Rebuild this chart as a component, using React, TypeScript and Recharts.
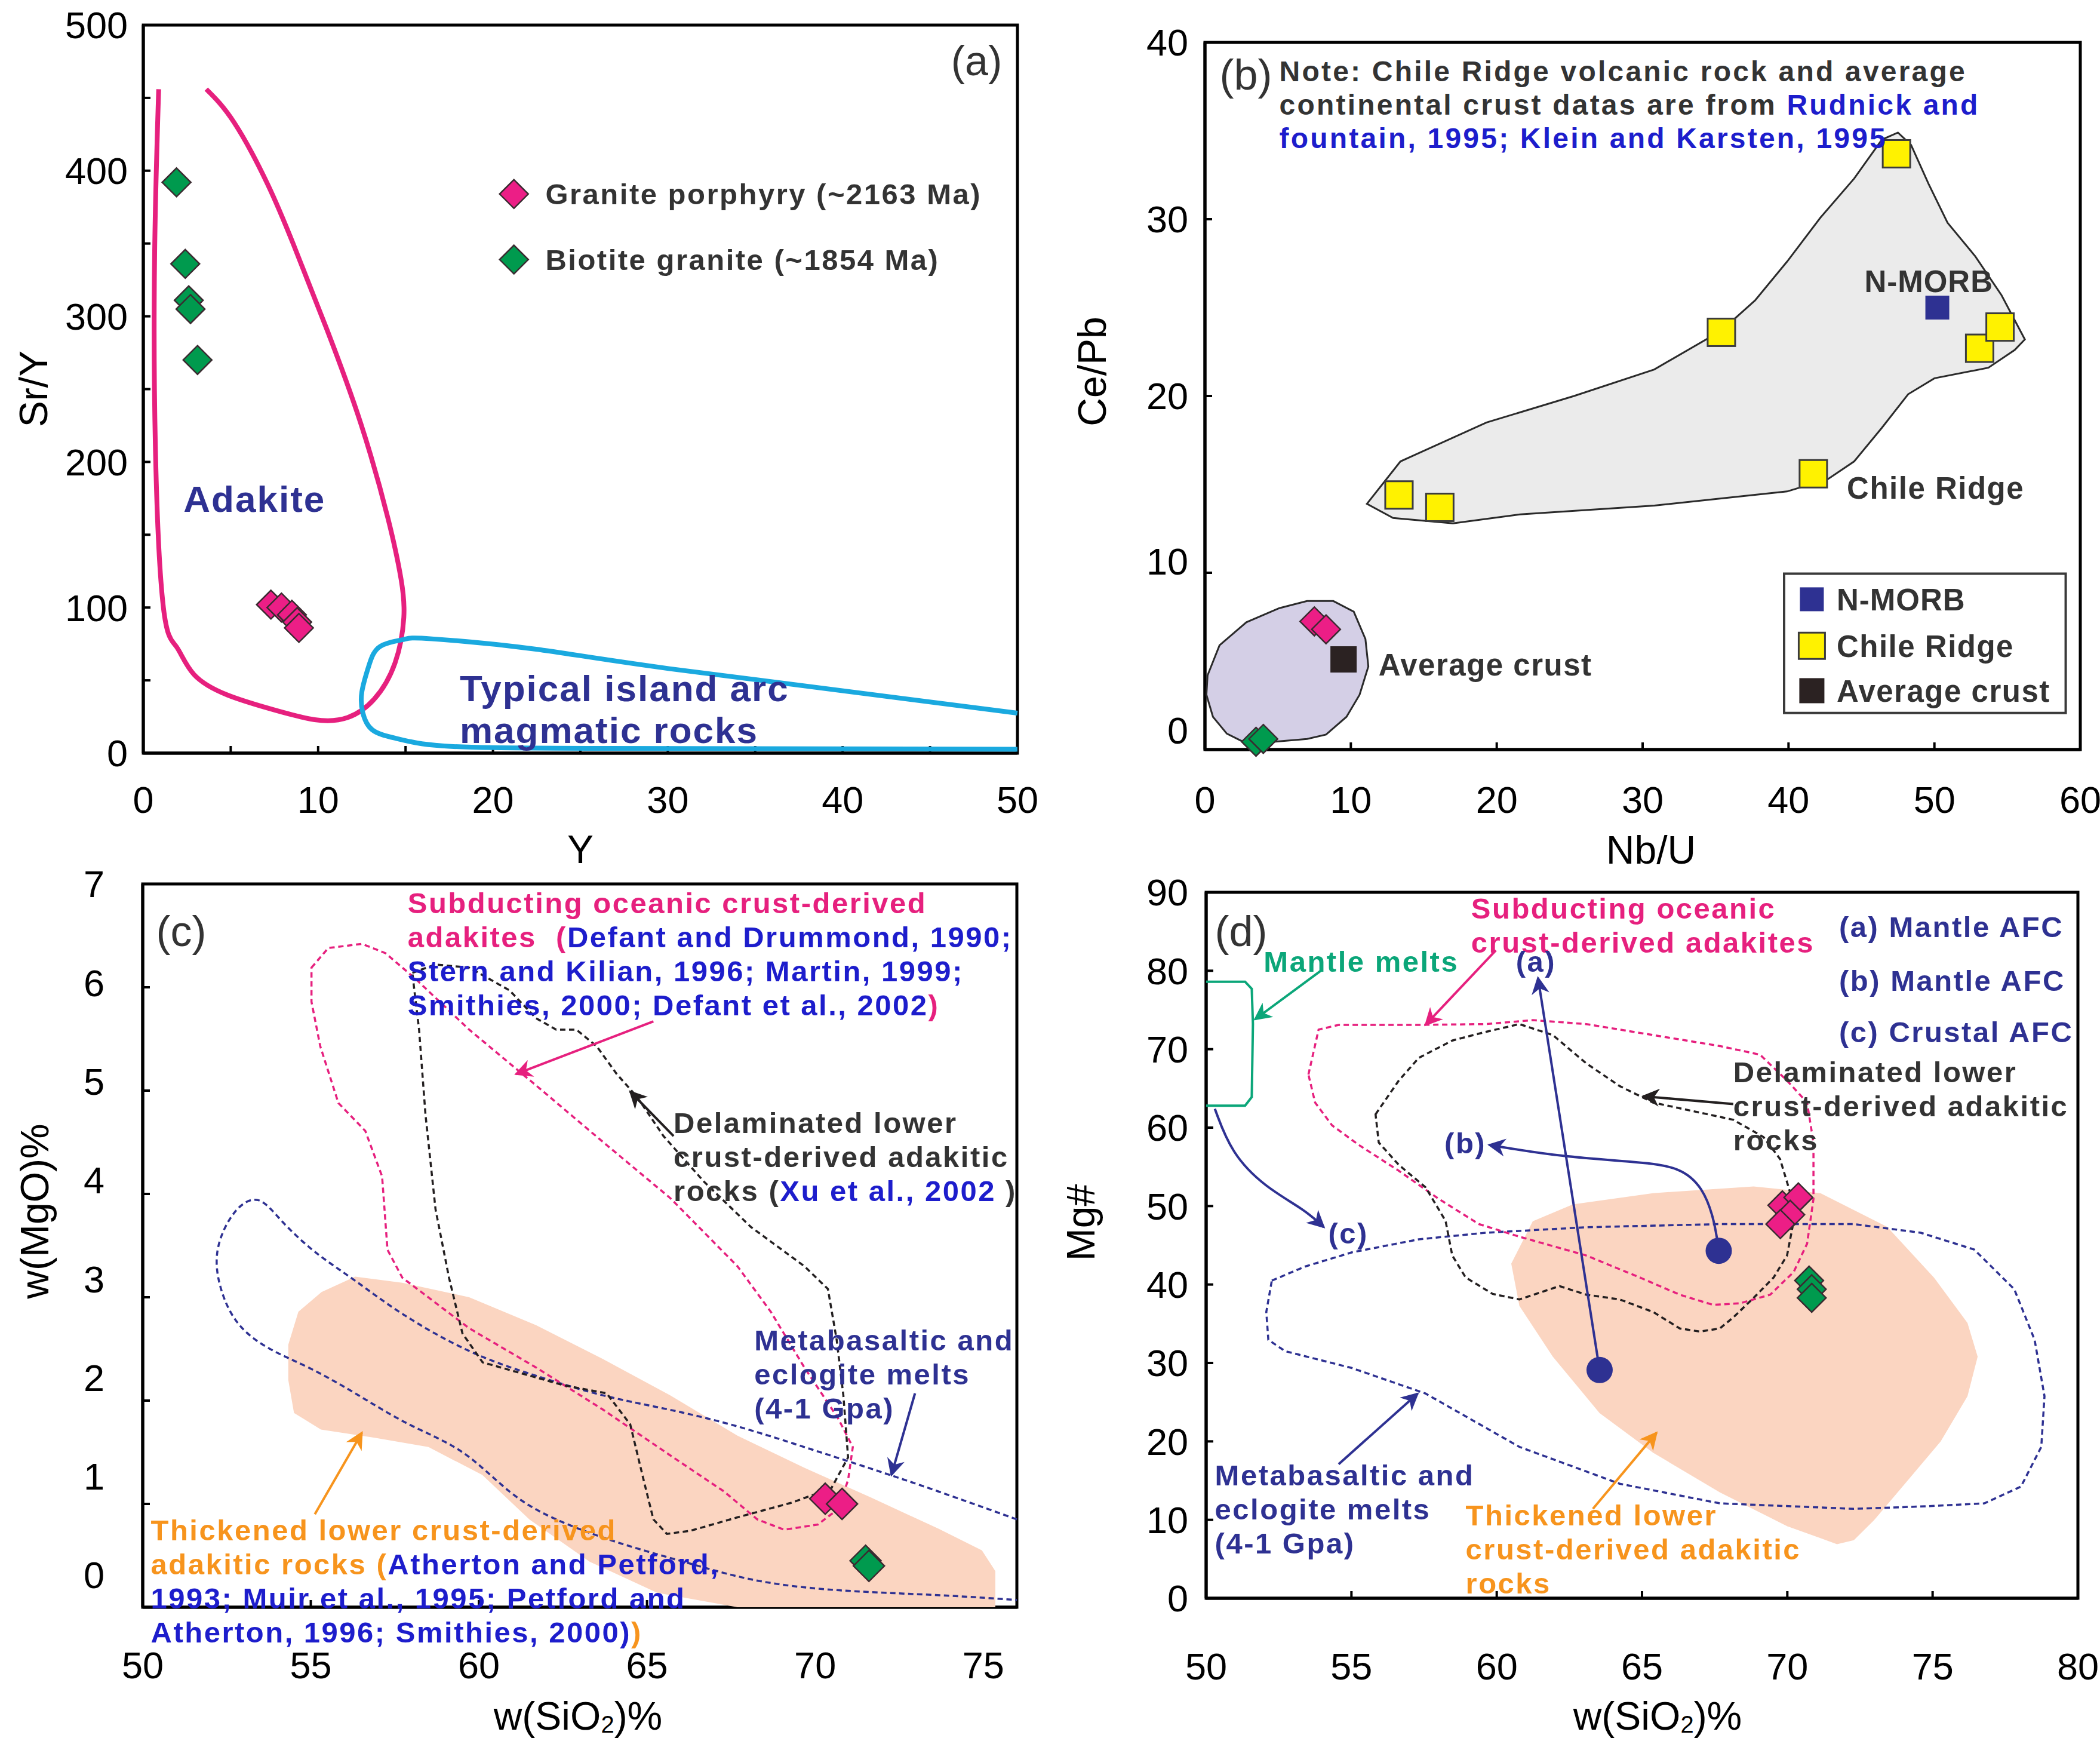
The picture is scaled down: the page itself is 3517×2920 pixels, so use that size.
import React from "react";
import { ScatterChart, Scatter, XAxis, YAxis, ReferenceArea } from "recharts";

const FONT = '"Liberation Sans", Arial, Helvetica, sans-serif';
const INK = "#333333";
const NAVY = "#2e3192";
const BLUE = "#1d1dcc";
const PINK = "#e6207e";
const ORANGE = "#f7941d";
const GREEN = "#0ba679";
const CYAN = "#1aa9df";
const PEACH = "#fbd5c1";
const DARK = "#231f20";

type P = { x: number; y: number };
const pts = (a: number[][]): P[] => a.map(([x, y]) => ({ x, y }));

// ---------- (a) Sr/Y vs Y ----------
const aXTicks = [0, 5, 10, 15, 20, 25, 30, 35, 40, 45, 50];
const aYTicks = [0, 50, 100, 150, 200, 250, 300, 350, 400, 450, 500];
const aPorphyry = pts([[7.3, 102], [7.9, 100], [8.5, 95], [8.8, 90], [8.9, 86]]);
const aBiotite = pts([[1.9, 392], [2.4, 336], [2.6, 311], [2.7, 305], [3.1, 270]]);
const aAdakite = pts([
  [0.88, 456], [0.65, 345], [0.69, 211], [1.15, 100], [1.9, 73], [2.9, 54], [4.8, 40],
  [7.1, 31], [9.8, 23], [11.7, 24.5], [13.2, 37], [14.4, 62], [14.9, 93], [14.75, 119],
  [14.0, 161], [12.45, 226], [10.5, 291], [8.6, 349], [7.1, 391], [5.2, 433], [3.6, 456],
]);
const aIslandArc = pts([
  [50, 27.5], [30.1, 58], [22.4, 71.5], [16.5, 78.5], [14.86, 78], [13.56, 73.4], [12.9, 60],
  [12.5, 42], [12.55, 28], [13.1, 16], [14.5, 10], [17.1, 5], [26, 3.3], [50, 2.7],
]);
const aLegendPorphyry = pts([[21.2, 384]]);
const aLegendBiotite = pts([[21.2, 339]]);

// ---------- (b) Ce/Pb vs Nb/U ----------
const bXTicks = [0, 10, 20, 30, 40, 50, 60];
const bYTicks = [0, 10, 20, 30, 40];
const bChile = pts([[13.3, 14.4], [16.1, 13.7], [35.4, 23.6], [47.4, 33.7], [41.7, 15.6], [53.1, 22.7], [54.5, 23.9]]);
const bMorb = pts([[50.2, 25.0]]);
const bAvgCrust = pts([[9.5, 5.1]]);
const bPorphyry = pts([[7.5, 7.25], [8.3, 6.8]]);
const bBiotite = pts([[3.5, 0.44], [4.0, 0.6]]);
const bChileField = pts([
  [11.1, 13.9], [13.4, 16.3], [19.3, 18.5], [25.3, 20.0], [30.8, 21.5], [35.4, 23.7],
  [37.7, 25.4], [39.9, 27.6], [42.2, 30.1], [44.5, 32.3], [46.4, 34.5], [47.5, 34.9],
  [48.4, 34.2], [49.6, 32.0], [50.9, 29.8], [52.8, 27.9], [54.6, 25.7], [56.2, 23.2],
  [55.5, 22.6], [53.7, 21.6], [50.0, 21.0], [48.2, 20.1], [46.4, 18.2], [44.5, 16.3],
  [42.7, 15.3], [39.9, 14.6], [30.8, 13.8], [21.6, 13.3], [17.0, 12.8], [12.9, 13.1],
]);
const bCrustField = pts([
  [0.18, 4.2], [1.0, 5.9], [2.84, 7.2], [5.1, 8.0], [7.0, 8.4], [8.8, 8.4], [10.2, 7.8],
  [11.0, 6.25], [11.2, 4.7], [10.6, 3.1], [9.7, 1.85], [8.3, 0.85], [7.0, 0.6], [4.7, 0.44],
  [2.84, 0.35], [1.5, 0.9], [0.55, 1.85], [0.1, 3.1],
]);
const bLegendMorb = pts([[41.6, 8.5]]);
const bLegendChile = pts([[41.6, 5.87]]);
const bLegendCrust = pts([[41.6, 3.33]]);

// ---------- (c) MgO vs SiO2 ----------
const cXTicks = [50, 55, 60, 65, 70, 75];
const cYTicks = [0, 1, 2, 3, 4, 5, 6, 7];
const cPorphyry = pts([[70.3, 1.05], [70.8, 1.0]]);
const cBiotite = pts([[71.5, 0.45], [71.6, 0.4]]);
const cThickened = pts([
  [54.33, 2.54], [54.63, 2.86], [55.32, 3.05], [56.32, 3.2], [57.72, 3.14], [59.71, 3.0],
  [61.7, 2.73], [63.7, 2.4], [65.69, 2.05], [67.69, 1.66], [69.68, 1.35], [71.67, 1.06],
  [73.67, 0.76], [74.96, 0.55], [75.36, 0.35], [75.36, 0.0], [67.69, 0.0], [65.3, 0.14],
  [63.3, 0.44], [61.5, 0.85], [60.1, 1.28], [58.5, 1.55], [56.9, 1.64], [55.3, 1.72],
  [54.5, 1.88], [54.33, 2.2],
]);
const cSubducting = pts([
  [55.02, 6.19], [55.52, 6.38], [56.52, 6.42], [57.22, 6.33], [58.12, 6.08], [59.71, 5.59],
  [61.7, 5.05], [63.7, 4.5], [65.69, 3.96], [67.69, 3.3], [68.68, 2.86], [69.68, 2.32],
  [70.68, 1.83], [71.12, 1.55], [70.98, 1.23], [70.68, 0.95], [70.08, 0.8], [69.08, 0.75],
  [68.28, 0.85], [67.29, 1.12], [65.69, 1.47], [63.7, 1.91], [61.7, 2.32], [59.71, 2.7],
  [57.72, 3.19], [57.28, 3.46], [57.12, 4.17], [56.62, 4.61], [55.82, 4.88], [55.28, 5.43],
  [55.02, 5.86],
]);
const cDelaminated = pts([
  [58.02, 6.14], [58.71, 6.22], [59.71, 6.19], [60.91, 5.97], [61.7, 5.7], [62.3, 5.59],
  [62.9, 5.59], [63.5, 5.43], [64.1, 5.16], [64.7, 4.94], [65.49, 4.56], [66.69, 4.12],
  [68.09, 3.68], [69.68, 3.3], [70.38, 3.08], [70.64, 2.59], [70.84, 2.05], [70.98, 1.45],
  [70.48, 1.15], [69.28, 1.01], [67.69, 0.87], [66.29, 0.74], [65.59, 0.71], [65.19, 0.85],
  [64.9, 1.23], [64.5, 1.77], [63.8, 2.07], [62.5, 2.15], [60.11, 2.37], [59.51, 2.65],
  [59.11, 3.19], [58.71, 3.85], [58.41, 4.77], [58.22, 5.59], [58.08, 5.97],
]);
const cMetabasalt = pts([
  [76.0, 0.85], [73.67, 1.12], [71.67, 1.34], [69.68, 1.55], [67.69, 1.75], [65.69, 1.91],
  [63.7, 2.05], [61.7, 2.24], [59.71, 2.48], [57.72, 2.84], [56.32, 3.16], [55.12, 3.44],
  [54.13, 3.74], [53.43, 3.94], [52.73, 3.82], [52.23, 3.46], [52.33, 3.08], [52.83, 2.75],
  [53.73, 2.51], [54.93, 2.32], [56.32, 2.07], [57.92, 1.77], [59.51, 1.5], [60.91, 1.12],
  [62.3, 0.85], [64.1, 0.63], [66.09, 0.44], [68.09, 0.27], [70.08, 0.18], [72.07, 0.14],
  [74.07, 0.11], [76.0, 0.07],
]);
const cArrowPink = pts([[65.19, 5.67], [61.1, 5.16]]);
const cArrowBlack = pts([[65.79, 4.56], [64.5, 4.99]]);
const cArrowNavy = pts([[72.97, 2.07], [72.27, 1.28]]);
const cArrowOrange = pts([[55.12, 0.9], [56.52, 1.69]]);

// ---------- (d) Mg# vs SiO2 ----------
const dXTicks = [50, 55, 60, 65, 70, 75, 80];
const dYTicks = [0, 10, 20, 30, 40, 50, 60, 70, 80, 90];
const dPorphyry = pts([[69.83, 50.1], [70.38, 51.1], [70.1, 48.9], [69.76, 47.7]]);
const dBiotite = pts([[70.75, 40.5], [70.84, 39.4], [70.84, 38.3]]);
const dAfcStart = pts([[67.64, 44.3], [63.54, 29.1]]);
const dThickened = pts([
  [60.5, 42.66], [61.24, 48.06], [62.62, 50.22], [65.38, 51.65], [68.84, 52.5], [71.14, 51.65],
  [73.44, 47.34], [75.05, 40.86], [76.2, 35.1], [76.55, 30.8], [76.2, 25.76], [75.28, 20.0],
  [74.13, 14.96], [72.98, 9.93], [72.29, 7.41], [71.71, 6.9], [69.99, 9.2], [67.68, 13.5],
  [65.38, 18.56], [63.54, 23.6], [61.93, 30.8], [60.78, 37.27],
]);
const dMetabasalt = pts([
  [52.26, 40.5], [53.41, 42.3], [55.02, 44.1], [57.32, 45.76], [59.62, 46.6], [63.08, 47.3],
  [67.68, 47.7], [72.29, 47.7], [74.59, 46.6], [76.43, 44.46], [77.81, 39.4], [78.51, 32.95],
  [78.85, 25.76], [78.74, 19.3], [78.04, 14.24], [76.78, 12.1], [74.59, 11.7], [72.29, 11.4],
  [67.68, 12.1], [64.23, 14.6], [60.78, 19.3], [57.55, 26.1], [55.02, 29.35], [52.72, 31.5],
  [52.14, 32.95], [52.07, 36.5],
]);
const dSubducting = pts([
  [53.52, 66.76], [53.87, 72.5], [54.56, 73.1], [57.32, 73.1], [59.62, 73.2], [61.24, 73.7],
  [63.08, 73.2], [65.38, 71.8], [67.68, 70.4], [69.06, 69.3], [69.99, 66.0], [70.68, 63.2],
  [70.9, 58.1], [70.9, 50.9], [70.68, 45.2], [70.22, 41.6], [69.41, 38.7], [68.37, 37.6],
  [67.45, 37.4], [66.3, 38.7], [64.92, 40.9], [63.08, 43.7], [60.78, 46.1], [59.39, 47.7],
  [58.01, 50.9], [56.63, 54.5], [55.25, 57.8], [54.33, 60.3], [53.75, 63.2],
]);
const dDelaminated = pts([
  [55.83, 61.7], [56.63, 66.0], [57.32, 68.9], [58.47, 71.1], [59.62, 72.2], [60.78, 73.2],
  [61.93, 71.8], [63.08, 68.2], [64.23, 65.3], [65.38, 63.2], [66.76, 62.1], [68.14, 61.0],
  [69.18, 58.8], [69.75, 56.0], [70.1, 51.7], [70.22, 48.1], [69.99, 43.7], [69.53, 40.9],
  [68.84, 38.3], [68.14, 35.8], [67.68, 34.4], [66.99, 34.0], [66.3, 34.4], [65.38, 36.5],
  [64.23, 38.1], [63.08, 38.7], [62.16, 39.8], [60.78, 38.1], [59.86, 38.8], [58.93, 40.9],
  [58.47, 43.7], [58.24, 48.1], [57.55, 52.4], [56.63, 55.25], [55.94, 58.1],
]);
const dMantle = pts([[50, 78.6], [51.34, 78.6], [51.57, 77.7], [51.61, 73.2], [51.57, 63.9], [51.34, 62.8], [50, 62.8]]);
const dArrowGreen = pts([[53.98, 80.1], [51.68, 73.8]]);
const dArrowPink = pts([[59.97, 82.6], [57.55, 73.1]]);
const dArrowBlack = pts([[68.14, 63.0], [65.04, 64.0]]);
const dArrowC = pts([[50.3, 62.4], [50.87, 56.7], [52.03, 52.4], [53.41, 49.5], [54.05, 47.3]]);
const dArrowA = pts([[63.54, 29.1], [61.42, 79.1]]);
const dArrowB = pts([[67.64, 44.3], [67.5, 48.1], [67.1, 52.4], [66.3, 55.0], [64.92, 55.6], [62.16, 56.3], [59.74, 57.8]]);
const dArrowMeta = pts([[54.56, 17.1], [57.28, 26.1]]);
const dArrowOrange = pts([[63.31, 11.4], [65.5, 21.1]]);

// ---------- text annotations (anchor in data units) ----------
type Seg = { t: string; c?: string };
type Note = P & { lines: (string | Seg[])[]; color: string; size?: number; normal?: boolean; ls?: number; lh?: number };

const aNotes: Note[] = [
  { x: 46.2, y: 476, lines: ["(a)"], color: INK, size: 70, normal: true, ls: 0 },
  { x: 23.0, y: 384, lines: ["Granite porphyry (~2163 Ma)"], color: INK, size: 49, ls: 2.5 },
  { x: 23.0, y: 339, lines: ["Biotite granite (~1854 Ma)"], color: INK, size: 49, ls: 2.5 },
  { x: 2.3, y: 175, lines: ["Adakite"], color: NAVY, size: 62, ls: 2 },
  { x: 18.1, y: 44.8, lines: ["Typical island arc", "magmatic rocks"], color: NAVY, size: 62, ls: 2, lh: 70 },
];
const bNotes: Note[] = [
  { x: 1.0, y: 38.2, lines: ["(b)"], color: INK, size: 72, normal: true, ls: 0 },
  {
    x: 5.1, y: 38.4, color: INK, size: 48, ls: 3.2, lh: 56,
    lines: [
      "Note: Chile Ridge volcanic rock and average",
      [{ t: "continental crust datas are from " }, { t: "Rudnick and", c: BLUE }],
      [{ t: "fountain, 1995; Klein and Karsten, 1995", c: BLUE }],
    ],
  },
  { x: 45.2, y: 26.5, lines: ["N-MORB"], color: INK, size: 51, ls: 1 },
  { x: 44.0, y: 14.8, lines: ["Chile Ridge"], color: INK, size: 51, ls: 1.5 },
  { x: 11.9, y: 4.8, lines: ["Average crust"], color: INK, size: 51, ls: 1.5 },
  { x: 43.3, y: 8.5, lines: ["N-MORB"], color: INK, size: 51, ls: 1 },
  { x: 43.3, y: 5.87, lines: ["Chile Ridge"], color: INK, size: 51, ls: 1.5 },
  { x: 43.3, y: 3.33, lines: ["Average crust"], color: INK, size: 51, ls: 1.5 },
];
const cNotes: Note[] = [
  { x: 50.4, y: 6.55, lines: ["(c)"], color: INK, size: 72, normal: true, ls: 0 },
  {
    x: 57.88, y: 6.82, color: PINK,
    lines: [
      "Subducting oceanic crust-derived",
      [{ t: "adakites  (" }, { t: "Defant and Drummond, 1990;", c: BLUE }],
      [{ t: "Stern and Kilian, 1996; Martin, 1999;", c: BLUE }],
      [{ t: "Smithies, 2000; Defant et al., 2002", c: BLUE }, { t: ")" }],
    ],
  },
  {
    x: 65.79, y: 4.69, color: INK,
    lines: ["Delaminated lower", "crust-derived adakitic", [{ t: "rocks (" }, { t: "Xu et al., 2002", c: BLUE }, { t: " )" }]],
  },
  { x: 68.19, y: 2.59, color: NAVY, lines: ["Metabasaltic and", "eclogite melts", "(4-1 Gpa)"] },
  {
    x: 50.24, y: 0.75, color: ORANGE,
    lines: [
      "Thickened lower crust-derived",
      [{ t: "adakitic rocks (" }, { t: "Atherton and Petford,", c: BLUE }],
      [{ t: "1993; Muir et al., 1995; Petford and", c: BLUE }],
      [{ t: "Atherton, 1996; Smithies, 2000)", c: BLUE }, { t: ")" }],
    ],
  },
];
const dNotes: Note[] = [
  { x: 50.3, y: 85.1, lines: ["(d)"], color: INK, size: 72, normal: true, ls: 0 },
  { x: 51.98, y: 81.2, lines: ["Mantle melts"], color: GREEN },
  { x: 59.12, y: 88.0, lines: ["Subducting oceanic", "crust-derived adakites"], color: PINK },
  { x: 60.66, y: 81.2, lines: ["(a)"], color: NAVY },
  { x: 71.78, y: 85.6, lines: ["(a) Mantle AFC"], color: NAVY },
  { x: 71.78, y: 78.8, lines: ["(b) Mantle AFC"], color: NAVY },
  { x: 71.78, y: 72.2, lines: ["(c) Crustal AFC"], color: NAVY },
  { x: 68.14, y: 67.1, lines: ["Delaminated lower", "crust-derived adakitic", "rocks"], color: INK },
  { x: 58.2, y: 58.1, lines: ["(b)"], color: NAVY },
  { x: 54.2, y: 46.6, lines: ["(c)"], color: NAVY },
  { x: 50.3, y: 15.7, lines: ["Metabasaltic and", "eclogite melts", "(4-1 Gpa)"], color: NAVY },
  { x: 58.93, y: 10.6, lines: ["Thickened lower", "crust-derived adakitic", "rocks"], color: ORANGE },
];

// ---------- shapes ----------
const NoShape = () => <g />;

const diamond = (fill: string, r = 24) => (p: any) => (
  <polygon
    points={`${p.cx},${p.cy - r} ${p.cx + r},${p.cy} ${p.cx},${p.cy + r} ${p.cx - r},${p.cy}`}
    fill={fill}
    stroke="#3a2a30"
    strokeWidth={2.5}
  />
);
const square = (fill: string, s: number, stroke = "none") => (p: any) => (
  <rect x={p.cx - s / 2} y={p.cy - s / 2} width={s} height={s} fill={fill} stroke={stroke} strokeWidth={3} />
);
const dot = (fill: string, r: number) => (p: any) => <circle cx={p.cx} cy={p.cy} r={r} fill={fill} />;

const NoteShape = (p: any) => {
  const n: Note = p.payload;
  const size = n.size ?? 49;
  const lh = n.lh ?? 57;
  return (
    <text
      fontFamily={FONT}
      fontSize={size}
      fontWeight={n.normal ? 400 : 700}
      fill={n.color}
      letterSpacing={n.ls ?? 2.5}
      style={{ whiteSpace: "pre" }}
    >
      {n.lines.map((line, i) => (
        <tspan key={i} x={p.cx} y={p.cy + i * lh + size * 0.36}>
          {typeof line === "string"
            ? line
            : line.map((s, j) => (
                <tspan key={j} fill={s.c ?? n.color}>
                  {s.t}
                </tspan>
              ))}
        </tspan>
      ))}
    </text>
  );
};

// ---------- series helpers ----------
type LineOpts = { width?: number; fill?: string; dash?: string; joint?: any; marker?: string };
const outline = (key: string, data: P[], stroke: string, o: LineOpts = {}) => (
  <Scatter
    key={key}
    data={data}
    shape={NoShape}
    isAnimationActive={false}
    lineJointType={o.joint ?? "linearClosed"}
    line={{
      stroke,
      strokeWidth: o.width ?? 3.5,
      fill: o.fill ?? "none",
      strokeDasharray: o.dash,
      markerEnd: o.marker ? `url(#${o.marker})` : undefined,
    }}
  />
);
const arrow = (key: string, data: P[], color: string, marker: string, joint: any = "linear") =>
  outline(key, data, color, { width: 4, joint, marker });
const marks = (key: string, data: P[], shape: any) => (
  <Scatter key={key} data={data} shape={shape} isAnimationActive={false} />
);
const notes = (key: string, data: Note[]) => (
  <Scatter key={key} data={data} shape={NoteShape} isAnimationActive={false} />
);

// ---------- axes ----------
const AXIS = { stroke: "#000", strokeWidth: 5 };
const TICK = { stroke: "#000", strokeWidth: 4 };
const isMajor = (v: number, step: number) => Math.abs(v / step - Math.round(v / step)) < 1e-6;

const xTick = (step: number) => (p: any) => {
  const v = p.payload.value;
  if (!isMajor(v, step)) return <g />;
  return (
    <text x={p.x} y={p.y} dy="0.71em" textAnchor="middle" fontFamily={FONT} fontSize={63} fill="#000">
      {v}
    </text>
  );
};
const yTick = (step: number, shift: (v: number) => number = () => 0) => (p: any) => {
  const v = p.payload.value;
  if (!isMajor(v, step)) return <g />;
  return (
    <text x={p.x} y={p.y + shift(v)} dy="0.355em" textAnchor="end" fontFamily={FONT} fontSize={63} fill="#000">
      {v}
    </text>
  );
};

const DASH = "9 6";

function PanelA() {
  return (
    <ScatterChart width={1760} height={1440} margin={{ top: 42, right: 56, bottom: 0, left: 0 }}>
      <XAxis type="number" dataKey="x" domain={[0, 50]} ticks={aXTicks} interval={0} height={179}
        tickSize={-12} tickMargin={67} tick={xTick(10)} axisLine={AXIS} tickLine={TICK} />
      <YAxis type="number" dataKey="y" domain={[0, 500]} ticks={aYTicks} interval={0} width={240}
        tickSize={-12} tickMargin={38} tick={yTick(100)} axisLine={AXIS} tickLine={TICK} />
      <ReferenceArea x1={0} x2={50} y1={0} y2={500} fill="none" stroke="#000" strokeWidth={5} ifOverflow="visible" />
      {outline("adakite", aAdakite, PINK, { width: 8, joint: "natural" })}
      {outline("arc", aIslandArc, CYAN, { width: 8, joint: "natural" })}
      {marks("biotite", aBiotite, diamond("#009a4e"))}
      {marks("porphyry", aPorphyry, diamond("#ec1e86"))}
      {marks("lgP", aLegendPorphyry, diamond("#ec1e86"))}
      {marks("lgB", aLegendBiotite, diamond("#009a4e"))}
      {notes("notes", aNotes)}
    </ScatterChart>
  );
}

function PanelB() {
  const shiftB = (v: number) => (v === 0 ? -32 : v === 10 ? -19 : 0);
  return (
    <ScatterChart width={1757} height={1440} margin={{ top: 71, right: 33, bottom: 0, left: 0 }}>
      <XAxis type="number" dataKey="x" domain={[0, 60]} ticks={bXTicks} interval={0} height={185}
        tickSize={-12} tickMargin={73} tick={xTick(10)} axisLine={AXIS} tickLine={TICK} />
      <YAxis type="number" dataKey="y" domain={[0, 40]} ticks={bYTicks} interval={0} width={258}
        tickSize={-12} tickMargin={40} tick={yTick(10, shiftB)} axisLine={AXIS} tickLine={TICK} />
      <ReferenceArea x1={0} x2={60} y1={0} y2={40} fill="none" stroke="#000" strokeWidth={5} ifOverflow="visible" />
      {outline("chileField", bChileField, "#2a2a2a", { width: 3, fill: "#ebebeb" })}
      {outline("crustField", bCrustField, "#2a2a2a", { width: 3, fill: "#d4cfe6" })}
      <ReferenceArea x1={39.7} x2={59.0} y1={2.07} y2={9.95} fill="#fff" fillOpacity={1} stroke="#3a3a3a" strokeWidth={4} ifOverflow="visible" />
      {marks("chile", bChile, square("#fff200", 46, "#3c3c3c"))}
      {marks("morb", bMorb, square(NAVY, 40))}
      {marks("avg", bAvgCrust, square("#2b2222", 44))}
      {marks("porphyry", bPorphyry, diamond("#ec1e86"))}
      {marks("biotite", bBiotite, diamond("#009a4e"))}
      {marks("lgMorb", bLegendMorb, square(NAVY, 40))}
      {marks("lgChile", bLegendChile, square("#fff200", 44, "#3c3c3c"))}
      {marks("lgCrust", bLegendCrust, square("#2b2222", 42))}
      {notes("notes", bNotes)}
    </ScatterChart>
  );
}

function PanelC() {
  const shiftC = (v: number) => -(7 - v) * 7.7;
  return (
    <ScatterChart width={1760} height={1480} margin={{ top: 40, right: 57, bottom: 0, left: 0 }}>
      <XAxis type="number" dataKey="x" domain={[50, 76]} ticks={cXTicks} interval={0} height={229}
        tickSize={-12} tickMargin={86} tick={xTick(5)} axisLine={AXIS} tickLine={TICK} />
      <YAxis type="number" dataKey="y" domain={[0, 7]} ticks={cYTicks} interval={0} width={239}
        tickSize={-12} tickMargin={76} tick={yTick(1, shiftC)} axisLine={AXIS} tickLine={TICK} />
      {outline("thick", cThickened, PEACH, { width: 0, fill: PEACH })}
      {outline("meta", cMetabasalt, NAVY, { dash: DASH, joint: "natural" })}
      {outline("sub", cSubducting, PINK, { dash: DASH })}
      {outline("delam", cDelaminated, DARK, { dash: DASH })}
      <ReferenceArea x1={50} x2={76} y1={0} y2={7} fill="none" stroke="#000" strokeWidth={5} ifOverflow="visible" />
      {arrow("aPink", cArrowPink, PINK, "ah-pink")}
      {arrow("aBlack", cArrowBlack, DARK, "ah-black")}
      {arrow("aNavy", cArrowNavy, NAVY, "ah-navy")}
      {arrow("aOrange", cArrowOrange, ORANGE, "ah-orange")}
      {marks("porphyry", cPorphyry, diamond("#ec1e86", 26))}
      {marks("biotite", cBiotite, diamond("#009a4e", 26))}
      {notes("notes", cNotes)}
    </ScatterChart>
  );
}

function PanelD() {
  return (
    <ScatterChart width={1757} height={1480} margin={{ top: 54, right: 37, bottom: 0, left: 0 }}>
      <XAxis type="number" dataKey="x" domain={[50, 80]} ticks={dXTicks} interval={0} height={244}
        tickSize={-12} tickMargin={103} tick={xTick(5)} axisLine={AXIS} tickLine={TICK} />
      <YAxis type="number" dataKey="y" domain={[0, 90]} ticks={dYTicks} interval={0} width={260}
        tickSize={-12} tickMargin={42} tick={yTick(10)} axisLine={AXIS} tickLine={TICK} />
      {outline("thick", dThickened, PEACH, { width: 0, fill: PEACH })}
      {outline("meta", dMetabasalt, NAVY, { dash: DASH })}
      {outline("sub", dSubducting, PINK, { dash: DASH })}
      {outline("delam", dDelaminated, DARK, { dash: DASH })}
      {outline("mantle", dMantle, GREEN, { width: 4, joint: "linear" })}
      <ReferenceArea x1={50} x2={80} y1={0} y2={90} fill="none" stroke="#000" strokeWidth={5} ifOverflow="visible" />
      {arrow("aGreen", dArrowGreen, GREEN, "ah-green")}
      {arrow("aPink", dArrowPink, PINK, "ah-pink")}
      {arrow("aBlack", dArrowBlack, DARK, "ah-black")}
      {arrow("aC", dArrowC, NAVY, "ah-navy", "basis")}
      {arrow("aA", dArrowA, NAVY, "ah-navy")}
      {arrow("aB", dArrowB, NAVY, "ah-navy", "basis")}
      {arrow("aMeta", dArrowMeta, NAVY, "ah-navy")}
      {arrow("aOrange", dArrowOrange, ORANGE, "ah-orange")}
      {marks("afc", dAfcStart, dot(NAVY, 22))}
      {marks("porphyry", dPorphyry, diamond("#ec1e86"))}
      {marks("biotite", dBiotite, diamond("#009a4e"))}
      {notes("notes", dNotes)}
    </ScatterChart>
  );
}

const Marker = ({ id, color }: { id: string; color: string }) => (
  <marker id={id} viewBox="0 0 10 10" refX="9" refY="5" markerWidth="34" markerHeight="30"
    markerUnits="userSpaceOnUse" orient="auto">
    <path d="M0,0 L10,5 L0,10 L3,5 z" fill={color} />
  </marker>
);

const titleStyle = { fontFamily: FONT, fontSize: 66, fill: "#000" } as const;
const SiO2 = () => (
  <>
    w(SiO<tspan fontSize={40} dy={14}>2</tspan>
    <tspan dy={-14}>)%</tspan>
  </>
);

export default function App() {
  return (
    <div style={{ position: "absolute", left: 0, top: 0, width: 3517, height: 2920, background: "#fff" }}>
      <div style={{ position: "absolute", left: 0, top: 0 }}><PanelA /></div>
      <div style={{ position: "absolute", left: 1760, top: 0 }}><PanelB /></div>
      <div style={{ position: "absolute", left: 0, top: 1440 }}><PanelC /></div>
      <div style={{ position: "absolute", left: 1760, top: 1440 }}><PanelD /></div>
      <svg width={3517} height={2920} style={{ position: "absolute", left: 0, top: 0, pointerEvents: "none" }}>
        <defs>
          <Marker id="ah-pink" color={PINK} />
          <Marker id="ah-black" color={DARK} />
          <Marker id="ah-navy" color={NAVY} />
          <Marker id="ah-orange" color={ORANGE} />
          <Marker id="ah-green" color={GREEN} />
        </defs>
        <g {...titleStyle} textAnchor="middle" dominantBaseline="central">
          <text x={56} y={651} transform="rotate(-90 56 651)">Sr/Y</text>
          <text x={972} y={1422}>Y</text>
          <text x={1829} y={622} transform="rotate(-90 1829 622)">Ce/Pb</text>
          <text x={2765} y={1423}>Nb/U</text>
          <text x={58} y={2028} transform="rotate(-90 58 2028)">w(MgO)%</text>
          <text x={968} y={2873}><SiO2 /></text>
          <text x={1810} y={2047} transform="rotate(-90 1810 2047)">Mg#</text>
          <text x={2776} y={2873}><SiO2 /></text>
        </g>
      </svg>
    </div>
  );
}
